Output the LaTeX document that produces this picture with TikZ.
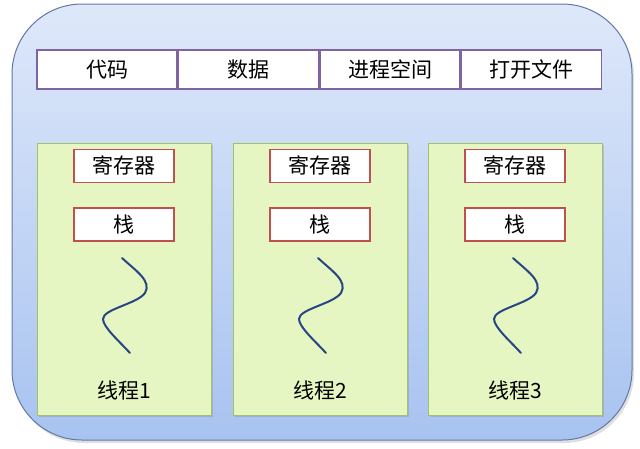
\documentclass[tikz,border=0pt]{standalone}
\usepackage{fontspec}
\setmainfont{Noto Sans CJK SC}
\usetikzlibrary{positioning, shadows}

\begin{document}
\begin{tikzpicture}[
    x=1pt, y=-1pt,
    font=\fontsize{21}{23}\selectfont,
    outer/.style={
        rectangle, rounded corners=70pt, draw=c0!80!black, line width=1pt,
        top color=c0top, bottom color=c0bot,
        minimum width=620pt, minimum height=436pt,
        drop shadow={opacity=0.25, shadow xshift=2pt, shadow yshift=-3pt}
    },
    cell/.style={
        rectangle, draw=c1, fill=white, line width=1.5pt,
        minimum width=140pt, minimum height=39pt, inner sep=0pt
    },
    thbox/.style={
        rectangle, draw=c2, fill=c2bg, line width=1pt,
        minimum width=174pt, minimum height=272pt, inner sep=0pt,
        drop shadow={opacity=0.3, shadow xshift=2pt, shadow yshift=-2pt}
    },
    regbox/.style={
        rectangle, draw=c3, fill=white, line width=1.5pt,
        minimum width=100pt, minimum height=33pt, inner sep=0pt
    },
    wave/.style={draw=c4, line width=2pt, line cap=round},
]

\definecolor{c0}{RGB}{122,150,205}
\definecolor{c0top}{RGB}{222,232,250}
\definecolor{c0bot}{RGB}{168,195,240}
\definecolor{c1}{RGB}{128,100,162}
\definecolor{c2}{RGB}{160,195,105}
\definecolor{c2bg}{RGB}{230,246,195}
\definecolor{c3}{RGB}{192,80,77}
\definecolor{c4}{RGB}{40,70,130}

\useasboundingbox (0,0) rectangle (640,448);

% ============================================================
% Process
% ============================================================

\node[outer] (proc) at (322,222) {};

\node[cell] (code) at (107,69.5) {代码};
\node[cell, right=0pt of code] (data) {数据};
\node[cell, right=0pt of data] (space) {进程空间};
\node[cell, right=0pt of space] (files) {打开文件};

% ============================================================
% Threads
% ============================================================

\node[thbox] (th1) at (124,279) {};
\node[thbox, right=21pt of th1] (th2) {};
\node[thbox, right=20pt of th2] (th3) {};

\foreach \t/\n in {th1/1, th2/2, th3/3} {
    \node[regbox, below=6pt of \t.north] (reg\n) {寄存器};
    \node[regbox, below=24pt of reg\n] (stack\n) {栈};
    \draw[wave, shift={(\t.center)}]
        (-2,-21) .. controls (12,-8) and (28,2) .. (21,14)
        .. controls (13,25) and (-21,30) .. (-21,40)
        .. controls (-21,48) and (-5,62) .. (6,74);
    \node at ([yshift=25pt]\t.south) (lab\n) {线程\n};
}

\end{tikzpicture}
\end{document}
